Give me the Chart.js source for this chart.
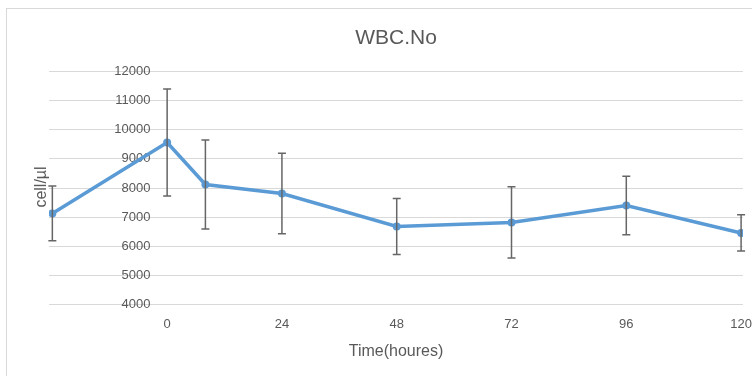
<!DOCTYPE html>
<html>
<head>
<meta charset="utf-8">
<script src="https://cdn.jsdelivr.net/npm/chart.js@4.4.0/dist/chart.umd.min.js"></script>
<style>
  html, body { margin: 0; padding: 0; background: #fff; overflow: hidden; }
  #frame { position: absolute; left: 6px; top: 8px; width: 800px; height: 400px; border: 1px solid #d9d9d9; }
  #wrap { position: absolute; left: 0; top: 0; width: 752px; height: 376px; }
</style>
</head>
<body>
<div id="frame"></div>
<div id="wrap"><canvas id="myChart" width="752" height="376"></canvas></div>
<script>
const hours = [-24, 0, 8, 24, 48, 72, 96, 120];
const wbcMean = [7130, 9560, 8120, 7810, 6680, 6820, 7400, 6460];
const wbcSd = [940, 1830, 1520, 1380, 960, 1220, 1000, 620];
const xTicks = [0, 24, 48, 72, 96, 120];
const yTicks = [4000, 5000, 6000, 7000, 8000, 9000, 10000, 11000, 12000];

const textColor = '#595959';
const fontName = '"Liberation Sans", Arial, sans-serif';

// error bars + y axis title, drawn with the chart's scales
const errorBars = {
    id: 'errorBars',
    afterDatasetsDraw(chart) {
        const c = chart.ctx;
        const xs = chart.scales.x;
        const ys = chart.scales.y;
        c.save();
        c.strokeStyle = '#666666';
        c.lineWidth = 1.5;
        hours.forEach((h, i) => {
            const px = xs.getPixelForValue(h);
            const top = ys.getPixelForValue(wbcMean[i] + wbcSd[i]);
            const bot = ys.getPixelForValue(wbcMean[i] - wbcSd[i]);
            c.beginPath();
            c.moveTo(px, top); c.lineTo(px, bot);
            c.moveTo(px - 4, top); c.lineTo(px + 4, top);
            c.moveTo(px - 4, bot); c.lineTo(px + 4, bot);
            c.stroke();
        });
        c.restore();
    },
    afterDraw(chart) {
        const c = chart.ctx;
        c.save();
        c.translate(42, 187);
        c.rotate(-Math.PI / 2);
        c.fillStyle = textColor;
        c.font = '16px ' + fontName;
        c.textAlign = 'center';
        c.textBaseline = 'middle';
        c.fillText('cell/µl', 0, 0);
        c.restore();
    }
};

new Chart(document.getElementById('myChart'), {
    type: 'line',
    data: {
        datasets: [{
            data: hours.map((h, i) => ({ x: h, y: wbcMean[i] })),
            borderColor: '#5b9bd5',
            backgroundColor: '#5b9bd5',
            borderWidth: 3.5,
            pointRadius: 4,
            pointBorderWidth: 0,
            tension: 0
        }]
    },
    options: {
        responsive: false,
        animation: false,
        layout: { padding: { left: 49, right: 9, bottom: 13 } },
        plugins: {
            legend: { display: false },
            tooltip: { enabled: false },
            title: {
                display: true,
                text: 'WBC.No',
                color: textColor,
                font: { family: fontName, size: 21, weight: 'normal' },
                padding: { top: 26, bottom: 20 }
            }
        },
        scales: {
            x: {
                type: 'linear',
                min: -24.7,
                max: 120.4,
                afterBuildTicks: (s) => { s.ticks = xTicks.map(v => ({ value: v })); },
                afterFit: (s) => { s.paddingLeft = 0; s.paddingRight = 0; },
                grid: { display: false, drawTicks: false },
                border: { display: false },
                ticks: {
                    color: textColor,
                    font: { family: fontName, size: 13, lineHeight: 1 },
                    padding: 13.5,
                    maxRotation: 0,
                    callback: (v) => String(v)
                },
                title: {
                    display: true,
                    text: 'Time(houres)',
                    color: textColor,
                    font: { family: fontName, size: 16 },
                    padding: { top: -3, bottom: 2 }
                }
            },
            y: {
                // labels sit just left of hour 0, like the Excel axis crossing
                position: { x: -3.5 },
                min: 4000,
                max: 12000,
                afterBuildTicks: (s) => { s.ticks = yTicks.map(v => ({ value: v })); },
                grid: { color: '#d9d9d9', lineWidth: 1, drawTicks: false },
                border: { display: false },
                ticks: {
                    color: textColor,
                    font: { family: fontName, size: 13 },
                    callback: (v) => String(v)
                }
            }
        }
    },
    plugins: [errorBars]
});
</script>
</body>
</html>
